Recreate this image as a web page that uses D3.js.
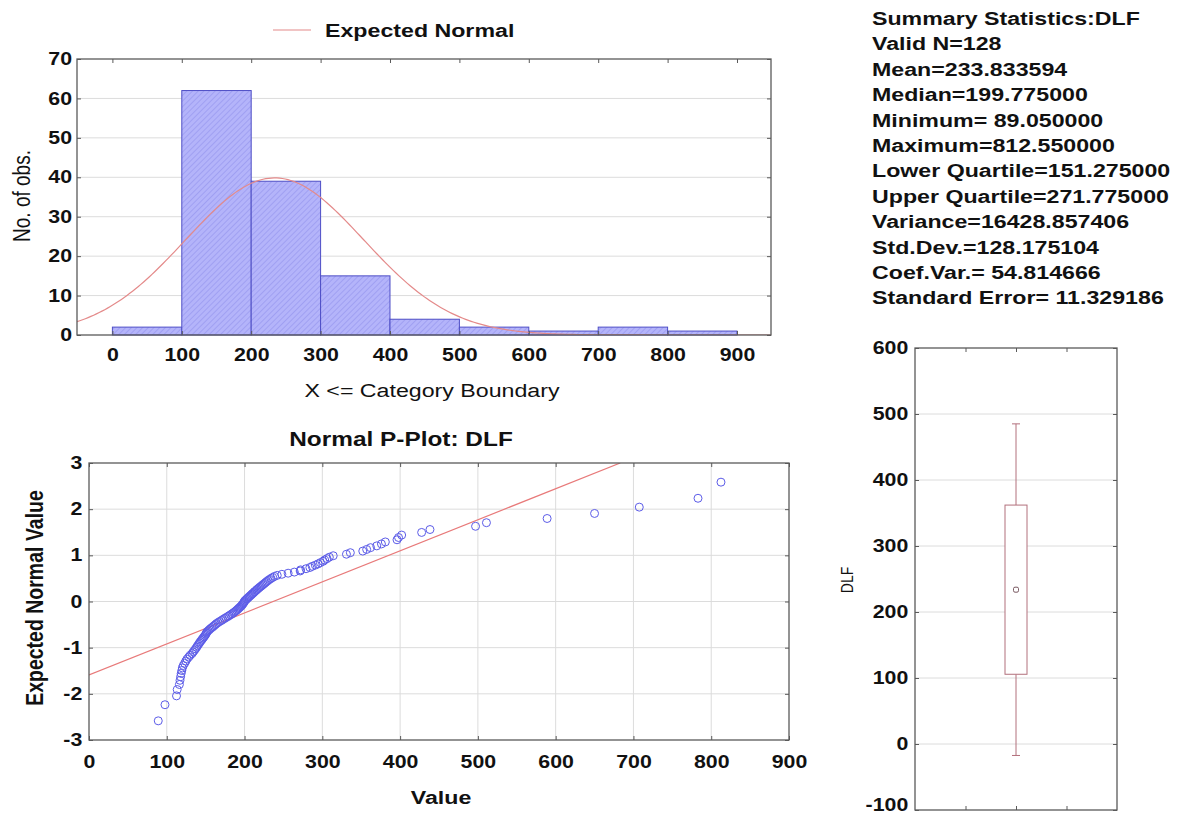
<!DOCTYPE html>
<html>
<head>
<meta charset="utf-8">
<script src="https://cdn.jsdelivr.net/npm/d3@7"></script>
<style>
  body { margin: 0; background: #fff; }
  svg text { font-family: Arial, "Liberation Sans", sans-serif; fill: #111; }
</style>
</head>
<body>
<script>

//histogram - lower bin edges and counts (bin width 100)
var binStarts = [0, 100, 200, 300, 400, 500, 600, 700, 800];
var binCounts = [2, 62, 39, 15, 4, 2, 1, 2, 1];
var binWidth = 100;

//summary stats shown on the right
var validN = 128, mean = 233.833594, stdDev = 128.175104;
var summaryLines = [
  "Summary Statistics:DLF",
  "Valid N=128",
  "Mean=233.833594",
  "Median=199.775000",
  "Minimum= 89.050000",
  "Maximum=812.550000",
  "Lower Quartile=151.275000",
  "Upper Quartile=271.775000",
  "Variance=16428.857406",
  "Std.Dev.=128.175104",
  "Coef.Var.= 54.814666",
  "Standard Error= 11.329186"
];

//p-plot points - sorted DLF values and their expected normal values
var dlfValues = [
  89.05, 97.7, 112.5, 113.4, 116.2, 117.0, 117.8, 118.5, 119.3, 120.0,
  121.2, 123.0, 124.5, 126.0, 128.2, 130.0, 132.5, 134.0, 135.6, 137.0,
  138.4, 139.5, 140.8, 142.0, 143.1, 144.5, 145.6, 146.8, 148.0, 149.2,
  150.1, 151.0, 151.55, 153.0, 154.6, 156.0, 157.8, 159.5, 161.0, 162.6,
  164.0, 166.0, 168.0, 170.2, 172.0, 174.1, 176.0, 178.3, 180.0, 182.0,
  183.8, 185.5, 187.0, 188.6, 190.0, 191.3, 192.5, 193.8, 195.0, 196.2,
  197.1, 198.0, 198.8, 199.5, 200.05, 201.2, 202.5, 203.6, 205.0, 206.2,
  207.5, 208.8, 210.0, 211.4, 212.6, 214.0, 215.3, 216.5, 218.0, 219.4,
  221.0, 222.5, 224.0, 225.6, 227.0, 228.5, 230.2, 232.0, 234.0, 236.2,
  238.5, 242.0, 248.0, 256.0, 264.0, 271.5, 272.05, 279.0, 284.0, 287.0,
  291.0, 294.5, 297.5, 301.0, 303.0, 306.0, 309.0, 314.0, 331.0, 336.0,
  352.0, 357.0, 362.0, 370.0, 376.0, 381.0, 396.0, 398.0, 402.0, 427.7,
  438.4, 497.0, 511.0, 589.0, 650.0, 707.5, 783.0, 812.55
];
var expectedNormal = [
  -2.585, -2.236, -2.044, -1.907, -1.798, -1.707, -1.629, -1.559, -1.496, -1.439,
  -1.386, -1.337, -1.290, -1.247, -1.205, -1.166, -1.128, -1.092, -1.057, -1.024,
  -0.991, -0.960, -0.929, -0.899, -0.870, -0.842, -0.815, -0.788, -0.762, -0.736,
  -0.710, -0.685, -0.661, -0.637, -0.613, -0.589, -0.566, -0.544, -0.521, -0.499,
  -0.477, -0.455, -0.433, -0.412, -0.391, -0.370, -0.349, -0.328, -0.308, -0.287,
  -0.267, -0.247, -0.227, -0.207, -0.187, -0.167, -0.147, -0.128, -0.108, -0.088,
  -0.068, -0.049, -0.029, -0.010, 0.010, 0.029, 0.049, 0.068, 0.088, 0.108,
  0.128, 0.147, 0.167, 0.187, 0.207, 0.227, 0.247, 0.267, 0.287, 0.308,
  0.328, 0.349, 0.370, 0.391, 0.412, 0.433, 0.455, 0.477, 0.499, 0.521,
  0.544, 0.566, 0.589, 0.613, 0.637, 0.661, 0.685, 0.710, 0.736, 0.762,
  0.788, 0.815, 0.842, 0.870, 0.899, 0.929, 0.960, 0.991, 1.024, 1.057,
  1.092, 1.128, 1.166, 1.205, 1.247, 1.290, 1.337, 1.386, 1.439, 1.496,
  1.559, 1.629, 1.707, 1.798, 1.907, 2.044, 2.236, 2.585
];
//fitted reference line of the p-plot (value, expected normal)
var refLineX = [0, 683];
var refLineY = [-1.59, 3];

//box plot: mean, mean +- sd, mean +- 1.96 sd
var boxCenter = 233.83;
var boxRange = [105.66, 362.01];
var whiskerRange = [-17.39, 485.06];

//tick values
var histXTicks = [0, 100, 200, 300, 400, 500, 600, 700, 800, 900];
var histYTicks = [0, 10, 20, 30, 40, 50, 60, 70];
var pXTicks = [0, 100, 200, 300, 400, 500, 600, 700, 800, 900];
var pYTicks = [-3, -2, -1, 0, 1, 2, 3];
var boxYTicks = [-100, 0, 100, 200, 300, 400, 500, 600];
var boxXTicks = [0.25, 0.5, 0.75];

var width = 1181, height = 816;
var sx = 1.22; // the source picture is stretched sideways, so is its lettering
var frameColor = "#5a5a5a", gridColor = "#dcdcdc";

//plain hyphen minus like the source, not d3's unicode minus
var plainFormat = function(d) { return String(d); };

var svg = d3.select("body").append("svg")
    .attr("width", width)
    .attr("height", height);

var defs = svg.append("defs");

//hatch for the histogram bars
var hatch = defs.append("pattern")
    .attr("id", "hatch")
    .attr("patternUnits", "userSpaceOnUse")
    .attr("width", 4).attr("height", 4)
    .attr("patternTransform", "rotate(45)");
hatch.append("rect").attr("width", 4).attr("height", 4).attr("fill", "#b4b4fa");
hatch.append("line").attr("x1", 0).attr("y1", 0).attr("x2", 0).attr("y2", 4)
    .attr("stroke", "#9696ee").attr("stroke-width", 1.3);

//text with the sideways stretch
function addText(x, y, str, o) {
  o = o || {};
  var g = svg.append("g")
      .attr("transform", "translate(" + x + "," + y + ") scale(" + sx + ",1)" + (o.rotate ? " rotate(" + o.rotate + ")" : ""));
  return g.append("text")
      .attr("text-anchor", o.anchor || "start")
      .style("font-size", (o.size || 19) + "px")
      .style("font-weight", o.bold === false ? "normal" : "bold")
      .text(str);
}

function styleAxis(g, size) {
  g.select(".domain").remove();
  g.selectAll(".tick line").attr("stroke", frameColor);
  g.selectAll(".tick text")
      .attr("transform", "scale(" + sx + ",1)")
      .attr("fill", "#111")
      .style("font-size", size + "px")
      .style("font-weight", "bold")
      .style("font-family", "Arial, 'Liberation Sans', sans-serif");
}

//draws the four inward-ticked sides of a panel, returns the left axis
function drawAxes(xs, ys, xt, yt, opts) {
  var x0 = xs.range()[0], x1 = xs.range()[1];
  var y0 = ys.range()[0], y1 = ys.range()[1];

  var bottom = svg.append("g").attr("transform", "translate(0," + y0 + ")")
      .call(d3.axisBottom(xs).tickValues(xt).tickSize(-4).tickPadding(opts.xPad || 14)
        .tickFormat(opts.noXLabels ? "" : plainFormat));
  styleAxis(bottom, 17.5);

  var left = svg.append("g").attr("transform", "translate(" + x0 + ",0)")
      .call(d3.axisLeft(ys).tickValues(yt).tickSize(-4).tickPadding(opts.yPad || 4)
        .tickFormat(plainFormat));
  styleAxis(left, 17.5);

  var top = svg.append("g").attr("transform", "translate(0," + y1 + ")")
      .call(d3.axisTop(xs).tickValues(xt).tickSize(-4).tickFormat(""));
  styleAxis(top, 17.5);

  var right = svg.append("g").attr("transform", "translate(" + x1 + ",0)")
      .call(d3.axisRight(ys).tickValues(yt).tickSize(-4).tickFormat(""));
  styleAxis(right, 17.5);

  svg.append("rect")
      .attr("x", x0).attr("y", y1)
      .attr("width", x1 - x0).attr("height", y0 - y1)
      .attr("fill", "none")
      .attr("stroke", frameColor)
      .attr("stroke-width", 1.3);

  return left;
}

// ---------------- histogram ----------------
var hx = d3.scaleLinear().domain([-51, 949]).range([77, 771]);
var hy = d3.scaleLinear().domain([0, 70]).range([335, 59]);

defs.append("clipPath").attr("id", "histClip")
  .append("rect").attr("x", 77).attr("y", 59).attr("width", 694).attr("height", 276);

svg.append("g").selectAll("line")
    .data(histYTicks.slice(1, -1))
    .enter().append("line")
    .attr("x1", 77).attr("x2", 771)
    .attr("y1", hy).attr("y2", hy)
    .attr("stroke", gridColor);

svg.append("g").selectAll("rect")
    .data(binStarts)
    .enter().append("rect")
    .attr("x", function(d) { return hx(d); })
    .attr("width", function(d) { return hx(d + binWidth) - hx(d); })
    .attr("y", function(d, i) { return hy(binCounts[i]); })
    .attr("height", function(d, i) { return hy(0) - hy(binCounts[i]); })
    .attr("fill", "url(#hatch)")
    .attr("stroke", "#4e4ec6")
    .attr("stroke-width", 1);

//expected normal curve scaled to counts
function expectedCount(x) {
  var z = (x - mean) / stdDev;
  return validN * binWidth / (stdDev * Math.sqrt(2 * Math.PI)) * Math.exp(-0.5 * z * z);
}
var curveXs = d3.range(hx.domain()[0], hx.domain()[1] + 1, 4);
svg.append("path")
    .datum(curveXs)
    .attr("clip-path", "url(#histClip)")
    .attr("fill", "none")
    .attr("stroke", "#e48a8a")
    .attr("stroke-width", 1.2)
    .attr("d", d3.line().x(function(d) { return hx(d); }).y(function(d) { return hy(expectedCount(d)); }));

drawAxes(hx, hy, histXTicks, histYTicks, { xPad: 14, yPad: 4 });

//legend
svg.append("line")
    .attr("x1", 273).attr("x2", 311).attr("y1", 30).attr("y2", 30)
    .attr("stroke", "#e48a8a").attr("stroke-width", 1.2);
addText(325, 37, "Expected Normal");

addText(432, 397, "X <= Category Boundary", { anchor: "middle", bold: false });
addText(30, 196, "No. of obs.", { anchor: "middle", bold: false, rotate: -90 });

// ---------------- normal p-plot ----------------
var px = d3.scaleLinear().domain([0, 900]).range([89, 789]);
var py = d3.scaleLinear().domain([-3, 3]).range([740, 463]);

defs.append("clipPath").attr("id", "pClip")
  .append("rect").attr("x", 89).attr("y", 463).attr("width", 700).attr("height", 277);

svg.append("g").selectAll("line")
    .data(pYTicks.slice(1, -1))
    .enter().append("line")
    .attr("x1", 89).attr("x2", 789)
    .attr("y1", py).attr("y2", py)
    .attr("stroke", gridColor);
svg.append("g").selectAll("line")
    .data(pXTicks.slice(1, -1))
    .enter().append("line")
    .attr("y1", 463).attr("y2", 740)
    .attr("x1", px).attr("x2", px)
    .attr("stroke", gridColor);

svg.append("line")
    .attr("clip-path", "url(#pClip)")
    .attr("x1", px(refLineX[0])).attr("y1", py(refLineY[0]))
    .attr("x2", px(refLineX[1])).attr("y2", py(refLineY[1]))
    .attr("stroke", "#e87a7a")
    .attr("stroke-width", 1.2);

svg.append("g").selectAll("circle")
    .data(dlfValues)
    .enter().append("circle")
    .attr("cx", function(d) { return px(d); })
    .attr("cy", function(d, i) { return py(expectedNormal[i]); })
    .attr("r", 4)
    .attr("fill", "none")
    .attr("stroke", "#5c5ce8")
    .attr("stroke-width", 1);

drawAxes(px, py, pXTicks, pYTicks, { xPad: 15.5, yPad: 5.5 });

addText(401, 446, "Normal P-Plot: DLF", { anchor: "middle", size: 20 });
addText(441, 804, "Value", { anchor: "middle" });
addText(43, 598, "Expected Normal Value", { anchor: "middle", rotate: -90, size: 19.5 });

// ---------------- box plot ----------------
var bx = d3.scaleLinear().domain([0, 1]).range([915, 1117]);
var by = d3.scaleLinear().domain([-100, 600]).range([810, 348]);

svg.append("g").selectAll("line")
    .data(boxYTicks.slice(1, -1))
    .enter().append("line")
    .attr("x1", 915).attr("x2", 1117)
    .attr("y1", by).attr("y2", by)
    .attr("stroke", gridColor);

var boxColor = "#b2707c";
var cx = bx(0.5);

//whiskers
svg.append("line")
    .attr("x1", cx).attr("x2", cx)
    .attr("y1", by(whiskerRange[1])).attr("y2", by(boxRange[1]))
    .attr("stroke", boxColor);
svg.append("line")
    .attr("x1", cx).attr("x2", cx)
    .attr("y1", by(boxRange[0])).attr("y2", by(whiskerRange[0]))
    .attr("stroke", boxColor);
svg.append("g").selectAll("line")
    .data(whiskerRange)
    .enter().append("line")
    .attr("x1", cx - 4).attr("x2", cx + 4)
    .attr("y1", by).attr("y2", by)
    .attr("stroke", boxColor);

svg.append("rect")
    .attr("x", cx - 11).attr("width", 22)
    .attr("y", by(boxRange[1]))
    .attr("height", by(boxRange[0]) - by(boxRange[1]))
    .attr("fill", "#fff")
    .attr("stroke", boxColor);

svg.append("rect")
    .attr("x", cx - 2.5).attr("y", by(boxCenter) - 2.5)
    .attr("width", 5).attr("height", 5).attr("rx", 1.5)
    .attr("fill", "none")
    .attr("stroke", "#7a5a62");

var boxLeft = drawAxes(bx, by, boxXTicks, boxYTicks, { noXLabels: true, yPad: 5.5 });
//the lowest label sits on the bottom edge - lift it a little so it stays in the picture
boxLeft.selectAll(".tick text")
    .filter(function(d) { return d === -100; })
    .attr("y", -5);

addText(853, 580, "DLF", { anchor: "middle", bold: false, rotate: -90, size: 14 });

// ---------------- summary text ----------------
svg.append("g").selectAll("g")
    .data(summaryLines)
    .enter().append("g")
    .attr("transform", function(d, i) { return "translate(872," + (25 + i * 25.4) + ") scale(" + sx + ",1)"; })
    .append("text")
    .style("font-size", "19px")
    .style("font-weight", "bold")
    .text(function(d) { return d; });

</script>
</body>
</html>
